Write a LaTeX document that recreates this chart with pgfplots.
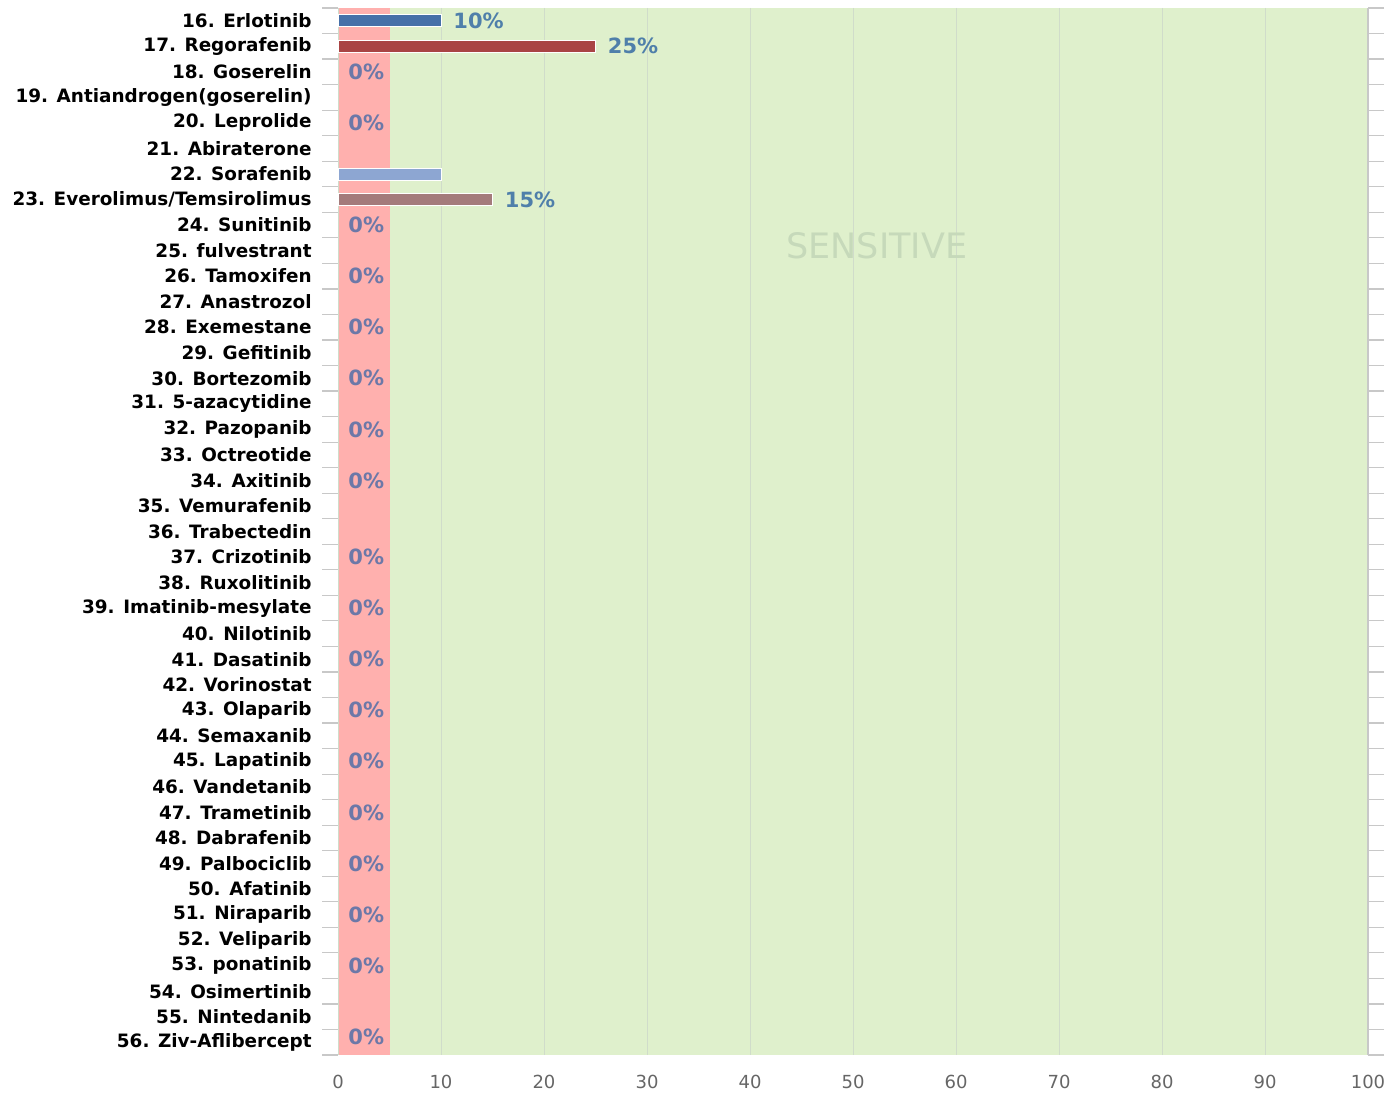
\documentclass[border=0pt]{standalone}
\usepackage{fontspec}
\setmainfont{DejaVu Sans}
\usepackage{pgfplots}
\pgfplotsset{compat=1.18}
\definecolor{pinkband}{HTML}{FFB0AE}
\definecolor{greenband}{HTML}{DFF0CC}
\definecolor{gridc}{HTML}{D0DCCA}
\definecolor{tickc}{HTML}{C8C8C8}
\definecolor{erlo}{HTML}{4670A8}
\definecolor{rego}{HTML}{A94444}
\definecolor{sora}{HTML}{8DA6D2}
\definecolor{ever}{HTML}{A47B7B}
\definecolor{vallab}{HTML}{4F7FAA}
\definecolor{zerolab}{HTML}{6C78A8}
\definecolor{senstxt}{HTML}{C6D9BA}

\begin{document}
\begin{tikzpicture}
\begin{axis}[
 set layers,
 /pgf/number format/assume math mode=true,
 scale only axis,width=515pt,height=523.5pt,
 xmin=0,xmax=100,ymin=-0.5,ymax=40.5,y dir=reverse,
 xtick={0,10,...,100},
 ytick={0,...,40},
 yticklabels={{16. Erlotinib},{17. Regorafenib},{18. Goserelin},{19. Antiandrogen(goserelin)},
  {20. Leprolide},{21. Abiraterone},{22. Sorafenib},{23. Everolimus/Temsirolimus},
  {24. Sunitinib},{25. fulvestrant},{26. Tamoxifen},{27. Anastrozol},{28. Exemestane},
  {29. Gefitinib},{30. Bortezomib},{31. 5-azacytidine},{32. Pazopanib},{33. Octreotide},
  {34. Axitinib},{35. Vemurafenib},{36. Trabectedin},{37. Crizotinib},{38. Ruxolitinib},
  {39. Imatinib-mesylate},{40. Nilotinib},{41. Dasatinib},{42. Vorinostat},{43. Olaparib},
  {44. Semaxanib},{45. Lapatinib},{46. Vandetanib},{47. Trametinib},{48. Dabrafenib},
  {49. Palbociclib},{50. Afatinib},{51. Niraparib},{52. Veliparib},{53. ponatinib},
  {54. Osimertinib},{55. Nintedanib},{56. Ziv-Aflibercept}},
 minor ytick={-0.5,0.5,...,40.5},
 xmajorgrids,grid style={gridc,line width=0.5pt},
 major tick length=0pt,minor tick length=8pt,tick align=outside,
 ytick pos=both,yticklabel pos=left,xtick pos=bottom,
 every minor tick/.append style={tickc,line width=0.6pt},
 axis line style={draw=none},
 xticklabel style={font=\fontsize{9}{10}\selectfont,text=black!60,inner sep=0pt,yshift=-10pt},
 yticklabel style={font=\fontsize{9.2}{10}\selectfont\bfseries,inner sep=0pt,xshift=-13pt},
 clip=false,
]
\begin{pgfonlayer}{axis background}
\fill[greenband] (axis cs:5,-0.5) rectangle (axis cs:100,40.5);
\fill[pinkband] (axis cs:0,-0.5) rectangle (axis cs:5,40.5);
\end{pgfonlayer}
\draw[tickc,line width=0.6pt] (rel axis cs:1,0) -- (rel axis cs:1,1);

\pgfplotsset{vbar/.style={xbar,bar width=6pt,bar shift=0pt,draw=white,line width=0.4pt,
  nodes near coords={\pgfmathprintnumber{\pgfplotspointmeta}\%},
  every node near coord/.append style={text=vallab,font=\fontsize{10.5}{11}\selectfont\bfseries,
   inner sep=0pt,anchor=west,xshift=6pt}}}
\addplot[vbar,fill=erlo] coordinates {(10,0)};
\addplot[vbar,fill=rego] coordinates {(25,1)};
\addplot[xbar,bar width=6pt,bar shift=0pt,draw=white,line width=0.4pt,fill=sora] coordinates {(10,6)};
\addplot[vbar,fill=ever] coordinates {(15,7)};

\addplot[xbar,bar width=6pt,bar shift=0pt,draw=none,fill=none,
 nodes near coords={0\%},
 every node near coord/.append style={text=zerolab,font=\fontsize{10.5}{11}\selectfont\bfseries,
  inner sep=0pt,anchor=west,xshift=5pt}]
 coordinates {(0,2) (0,4) (0,8) (0,10) (0,12) (0,14) (0,16) (0,18) (0,21) (0,23)
  (0,25) (0,27) (0,29) (0,31) (0,33) (0,35) (0,37) (0,39.77)};

\node[text=senstxt,font=\fontsize{17.5}{18}\selectfont] at (axis cs:52.3,8.8) {SENSITIVE};
\end{axis}
\pgfresetboundingbox
\path[use as bounding box] (-169pt,-19.5pt) rectangle (527pt,527.5pt);
\end{tikzpicture}
\end{document}
